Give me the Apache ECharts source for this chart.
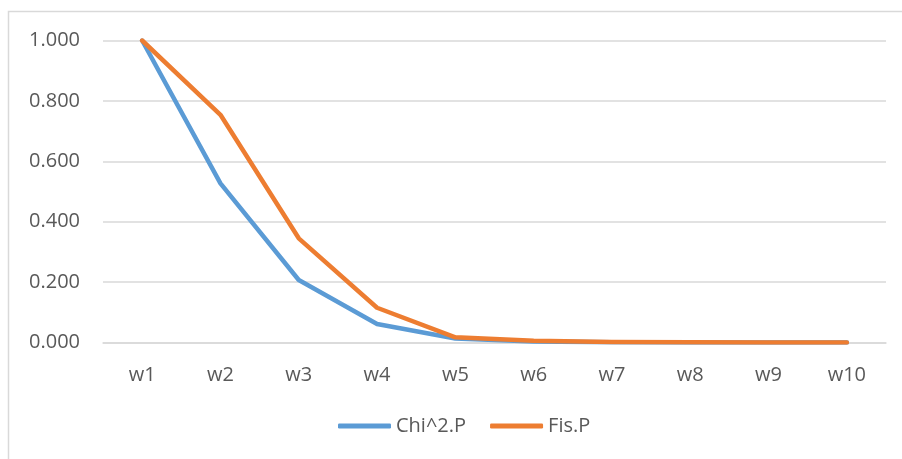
<!DOCTYPE html>
<html>
<head>
<meta charset="utf-8">
<script src="https://cdn.jsdelivr.net/npm/echarts@6/dist/echarts.min.js"></script>
<style>
  html, body { margin: 0; padding: 0; background: #fff; }
  #chart { width: 902px; height: 459px; }
</style>
</head>
<body>
<div id="chart"></div>
<script>
// Weekly p-values for the two tests
const weeks = ['w1', 'w2', 'w3', 'w4', 'w5', 'w6', 'w7', 'w8', 'w9', 'w10'];
const chiP = [1.000, 0.527, 0.207, 0.061, 0.013, 0.003, 0.001, 0.000, 0.000, 0.000];
const fisP = [1.000, 0.754, 0.345, 0.115, 0.017, 0.006, 0.002, 0.001, 0.000, 0.000];
const yTicks = [0, 0.2, 0.4, 0.6, 0.8, 1.0];

const FONT = '"Open Sans", "Liberation Sans", sans-serif';
const TEXT = '#595959';

const chart = echarts.init(document.getElementById('chart'), null, { renderer: 'canvas' });

chart.setOption({
  animation: false,
  backgroundColor: '#ffffff',
  graphic: [{
    type: 'polyline',
    shape: { points: [[8.5, 470], [8.5, 11.5], [910, 11.5]] },
    style: { stroke: '#d9d9d9', lineWidth: 1.5, fill: null },
    silent: true
  }],
  grid: { left: 103, right: 16, top: 40.5, bottom: 116.5, containLabel: false },
  xAxis: {
    type: 'category',
    data: weeks,
    boundaryGap: true,
    axisLine: { show: true, lineStyle: { color: '#d9d9d9', width: 1.5 } },
    axisTick: { show: false },
    axisLabel: { color: TEXT, fontFamily: FONT, fontSize: 20, margin: 23 }
  },
  yAxis: {
    type: 'value',
    min: yTicks[0],
    max: yTicks[yTicks.length - 1],
    interval: 0.2,
    axisLine: { show: false },
    axisTick: { show: false },
    splitLine: { lineStyle: { color: '#d9d9d9', width: 1.5 } },
    axisLabel: {
      color: TEXT, fontFamily: FONT, fontSize: 20, margin: 23,
      formatter: v => v.toFixed(3)
    }
  },
  legend: {
    bottom: 18,
    left: 333,
    itemWidth: 53,
    itemHeight: 5,
    itemGap: 24,
    icon: 'roundRect',
    textStyle: { color: TEXT, fontFamily: FONT, fontSize: 20 },
    data: ['Chi^2.P', 'Fis.P']
  },
  series: [
    {
      name: 'Chi^2.P', type: 'line', data: chiP,
      symbol: 'none', lineStyle: { width: 4.5, color: '#5B9BD5', cap: 'round', join: 'round' },
      itemStyle: { color: '#5B9BD5' }
    },
    {
      name: 'Fis.P', type: 'line', data: fisP,
      symbol: 'none', lineStyle: { width: 4.5, color: '#ED7D31', cap: 'round', join: 'round' },
      itemStyle: { color: '#ED7D31' }
    }
  ]
});
</script>
</body>
</html>
